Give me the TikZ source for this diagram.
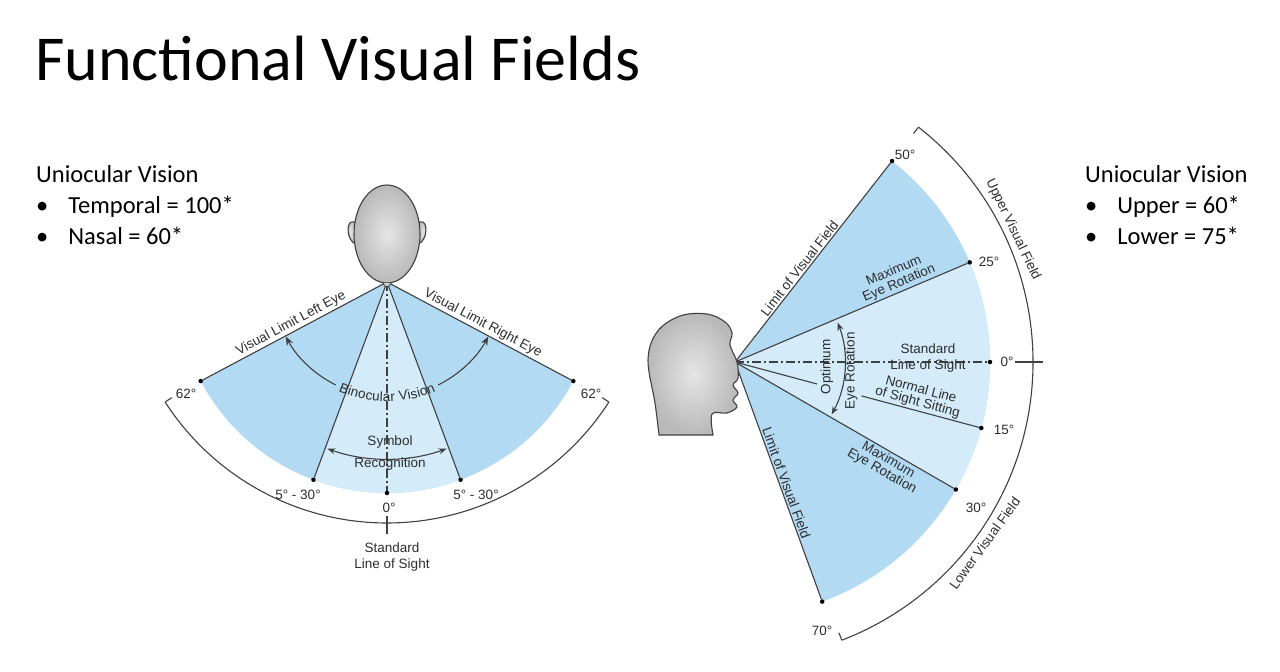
\documentclass[tikz,border=0pt]{standalone}
\usepackage{fontspec}
\setmainfont{Liberation Sans}
\newfontfamily\titlefont{Carlito}
\usetikzlibrary{calc,arrows.meta,decorations.text,shapes.geometric}
\definecolor{dblue}{HTML}{B3DAF3}
\definecolor{lblue}{HTML}{D4EBF9}
\definecolor{labc}{HTML}{2E2E2E}
\definecolor{linec}{HTML}{404040}
\begin{document}
\begin{tikzpicture}[x=1pt,y=1pt,
  lab/.style={font=\fontsize{13.5}{14}\selectfont, text=labc, inner sep=1.5pt, align=center},
  ln/.style={draw=linec, line width=1.1pt},
  dotc/.style={circle, fill=black, inner sep=0pt, minimum size=4.5pt},
  arr/.style={ln, {Stealth[length=8pt,width=6pt]}-{Stealth[length=8pt,width=6pt]}},
  body/.style={font=\titlefont\fontsize{24.5}{28}\selectfont, anchor=base west, inner sep=0pt},
  headc/.style={draw=linec, line width=1.1pt, inner color=gray!20, outer color=gray!55}]
\useasboundingbox (0,0) rectangle (1280,-672);
\fill[white] (0,0) rectangle (1280,-672);
% title and side texts
\node[font=\titlefont\fontsize{64}{70}\selectfont, anchor=base west, inner sep=0pt] (title) at (35,-80) {Functional Visual Fields};
\node[body] (lt) at (36,-182) {Uniocular Vision};
\node[body] (lb1) at (36,-213) {\textbullet\hspace{20pt}Temporal = 100*};
\node[body] (lb2) at (36,-244) {\textbullet\hspace{20pt}Nasal = 60*};
\node[body] (rt) at (1085,-182) {Uniocular Vision};
\node[body] (rb1) at (1085,-213) {\textbullet\hspace{20pt}Upper = 60*};
\node[body] (rb2) at (1085,-244) {\textbullet\hspace{20pt}Lower = 75*};
% ================= LEFT DIAGRAM
\coordinate (L) at (387,-282);
\coordinate (LA) at (387,-259);
\fill[dblue] (L) -- ($(L)+(208:211)$) arc (208:332:211) -- cycle;
\fill[lblue] (L) -- ($(L)+(249.6:211)$) arc (249.6:290.4:211) -- cycle;
\draw[ln] ($(LA)+(212.8:264)$) arc (212.8:327.2:264);
\draw[ln] ($(LA)+(212.8:264)$) -- ($(LA)+(212.8:256)$);
\draw[ln] ($(LA)+(327.2:264)$) -- ($(LA)+(327.2:256)$);
\node[dotc] (l62) at ($(L)+(208:211)$) {};
\node[dotc] (r62) at ($(L)+(332:211)$) {};
\node[dotc] (l5) at ($(L)+(249.6:211)$) {};
\node[dotc] (r5) at ($(L)+(290.4:211)$) {};
\node[dotc] (l0) at ($(L)+(270:211)$) {};
\draw[ln] (L) -- (l62) node[lab, pos=0.5, sloped, above] (vll) {Visual Limit Left Eye};
\draw[ln] (L) -- (r62) node[lab, pos=0.5, sloped, above] (vlr) {Visual Limit Right Eye};
\draw[ln] (L) -- (l5);
\draw[ln] (L) -- (r5);
\draw[ln, dash pattern=on 9pt off 3pt on 2pt off 3pt] (L) -- (l0);
\coordinate (lsa) at (387,-516);
\coordinate (lsb) at (387,-534);
\draw[ln] (lsa) -- (lsb);
% binocular arc
\draw[ln, {Stealth[length=9pt,width=7pt]}-] ($(L)+(208.3:115)$) arc (208.3:243.5:115);
\draw[ln, -{Stealth[length=9pt,width=7pt]}] ($(L)+(296.5:115)$) arc (296.5:331.7:115);
\path[decorate, decoration={text along path, text align=center, raise=-4.5pt,
  text={|\color{labc}\fontsize{13.5}{14}\selectfont|Binocular Vision}}]
  ($(L)+(238:115)$) arc (238:302:115);
\draw[arr] ($(L)+(250.3:177)$) arc (250.3:289.7:177);
\node[lab] (sym) at (390,-442) {Symbol};
\node[lab] (rec) at (390,-464) {Recognition};
\node[lab] (t62l) at (186,-394) {62°};
\node[lab] (t62r) at (591,-394) {62°};
\node[lab] (t5l) at (298,-495) {5° - 30°};
\node[lab] (t5r) at (476,-495) {5° - 30°};
\node[lab] (t0) at (389,-508) {0°};
\node[lab, font=\fontsize{13.5}{16}\selectfont] (tsl) at (392,-557) {Standard\\Line of Sight};
% top-view head
\draw[headc] (353,-222) .. controls (346,-220) and (346,-241) .. (356,-244) -- (356,-222) -- cycle;
\draw[headc] (421,-222) .. controls (428,-220) and (428,-241) .. (418,-244) -- (418,-222) -- cycle;
\node[headc, ellipse, minimum width=66pt, minimum height=98pt, draw, inner sep=0pt] (headL) at (387,-234) {};
\draw[linec, line width=0.8pt, fill=gray!40] (383,-283) .. controls (384,-288) and (390,-288) .. (391,-283);
% ================= RIGHT DIAGRAM
\coordinate (R) at (735,-362);
\fill[dblue] (R) -- ($(R)+(52:255)$) arc (52:-70:255) -- cycle;
\fill[lblue] (R) -- ($(R)+(23:255)$) arc (23:-30:255) -- cycle;
\draw[ln] ($(R)+(52:298)$) arc (52:-69:298);
\draw[ln] ($(R)+(52:298)$) -- ($(R)+(52:290)$);
\draw[ln] ($(R)+(-69:298)$) -- ($(R)+(-69:290)$);
\node[dotc] (d50) at ($(R)+(52:255)$) {};
\node[dotc] (d25) at ($(R)+(23:255)$) {};
\node[dotc] (d0) at ($(R)+(0:255)$) {};
\node[dotc] (d15) at ($(R)+(-15:255)$) {};
\node[dotc] (d30) at ($(R)+(-30:255)$) {};
\node[dotc] (d70) at ($(R)+(-70:255)$) {};
\draw[ln] (R) -- (d50) node[lab, pos=0.45, sloped, above] (lvf1) {Limit of Visual Field};
\draw[ln] (R) -- (d25) node[lab, pos=0.72, sloped, above, font=\fontsize{13.5}{13}\selectfont] (mer1) {Maximum\\Eye Rotation};
\draw[ln] (R) -- (d30) node[lab, pos=0.72, sloped, below, font=\fontsize{13.5}{13}\selectfont] (mer2) {Maximum\\Eye Rotation};
\draw[ln] (R) -- (d70) node[lab, pos=0.52, sloped, above] (lvf2) {Limit of Visual Field};
\draw[ln, dash pattern=on 9pt off 3pt on 2pt off 3pt] (R) -- (d0);
\coordinate (z1) at ($(R)+(0:280)$);
\coordinate (z2) at ($(R)+(0:308)$);
\draw[ln] (z1) -- (z2);
\coordinate (n1) at ($(R)+(-15:85)$);
\coordinate (n2) at ($(R)+(-15:131)$);
\draw[ln] (R) -- (n1);
\draw[ln] (n2) -- (d15);
\path (R) -- (d15) node[lab, pos=0.74, sloped, above, font=\fontsize{13.5}{13}\selectfont] (nls) {Normal Line\\of Sight Sitting};
\draw[arr] ($(R)+(-28.5:110)$) arc (-28.5:21:110);
\node[lab, rotate=90] (opt) at (827,-367) {Optimum};
\node[lab, rotate=90] (eyr) at (851,-371) {Eye Rotation};
\node[lab, font=\fontsize{13.5}{16}\selectfont] (sls) at (928,-358) {Standard\\Line of Sight};
\node[lab, rotate=-64.5, anchor=south] (uvf) at ($(R)+(25.5:300)$) {Upper Visual Field};
\node[lab, rotate=54, anchor=north] (lwvf) at ($(R)+(-36:302)$) {Lower Visual Field};
\node[lab] (a50) at (905,-155) {50°};
\node[lab] (a25) at (989,-262) {25°};
\node[lab] (a0) at (1007,-362) {0°};
\node[lab] (a15) at (1004,-430) {15°};
\node[lab] (a30) at (976,-508) {30°};
\node[lab] (a70) at (822,-631) {70°};
% profile head
\draw[headc] plot[smooth, tension=0.6] coordinates {(713,-435) (712,-414) (727,-413) (737,-407) (733,-400) (738,-393) (733,-385) (738,-378) (737,-362) (730,-345) (732,-333) (725,-322) (707,-314) (680,-316) (657,-332) (648,-360) (655,-403) (659,-435)} -- cycle;
\end{tikzpicture}
\end{document}
